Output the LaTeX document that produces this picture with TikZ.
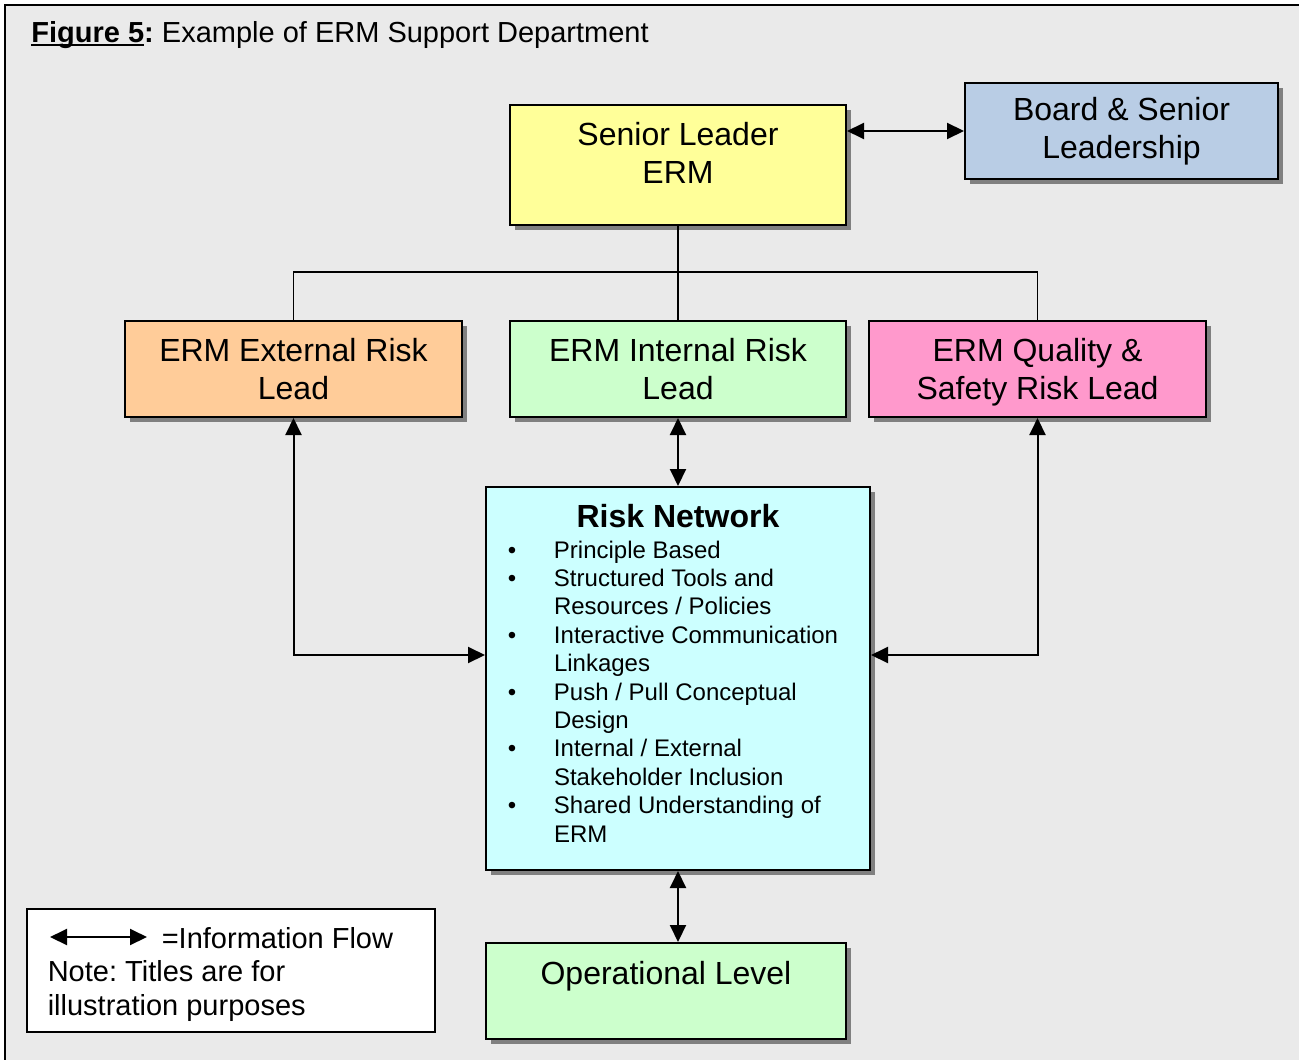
\documentclass[tikz,border=0pt]{standalone}
\usepackage{fontspec}
\setmainfont{Liberation Sans}
\usetikzlibrary{arrows.meta,shadows}
\frenchspacing
\definecolor{bg}{HTML}{EAEAEA}
\definecolor{cyel}{HTML}{FFFF99}
\definecolor{cblue}{HTML}{B9CDE5}
\definecolor{corange}{HTML}{FFCC99}
\definecolor{cgreen}{HTML}{CCFFCC}
\definecolor{cpink}{HTML}{FF99CC}
\definecolor{ccyan}{HTML}{CCFFFF}
\definecolor{shadowgray}{HTML}{808080}
\newcommand\figul[1]{\setbox0\hbox{#1}\rlap{\rule[-1.7pt]{\wd0}{1.1pt}}\box0}
\newcommand\rnbul{\hspace*{10.9pt}\makebox[23.1pt][l]{\textbullet}}
\newcommand\rncont{\hspace*{34pt}}
\tikzset{
  box/.style={draw=black, line width=1pt, inner sep=0pt, anchor=north west,
    drop shadow={shadow xshift=2.5pt, shadow yshift=-2.5pt, fill=shadowgray, opacity=1},
    font=\fontsize{16}{18.75}\selectfont, align=center},
  flow/.style={line width=1pt, {Triangle[length=8.5pt,width=8pt]}-{Triangle[length=8.5pt,width=8pt]}},
  tree/.style={line width=0.8pt},
  legendbox/.style={draw=black, line width=0.8pt, fill=white, inner sep=0pt, anchor=north west,
    font=\fontsize{14.5}{16.75}\selectfont},
}
\begin{document}
\begin{tikzpicture}[x=0.5pt, y=-0.5pt]
\useasboundingbox (0,0) rectangle (1299,1059);
\fill[white] (0,0) rectangle (1299,1059);
\draw[line width=1.2pt, fill=bg] (5,5) rectangle (1340,1100);

\node[anchor=base west, inner sep=0pt, font=\fontsize{14.5}{17}\selectfont] (title) at (31,42.5)
  {\figul{\textbf{Figure 5}}\textbf{:} Example of ERM Support Department};

\node[box, fill=cyel, minimum width=168pt, minimum height=60pt] (sl) at (509,104)
  {\parbox[c][60pt][t]{168pt}{\centering\fontsize{16}{19}\selectfont\rule{0pt}{20.25pt}Senior Leader\\ERM}};
\node[box, fill=cblue, minimum width=156.5pt, minimum height=48pt] (bd) at (964,82)
  {Board \& Senior\\Leadership};
\node[box, fill=corange, minimum width=168.5pt, minimum height=48pt] (ext) at (124,320)
  {ERM External Risk\\Lead};
\node[box, fill=cgreen, minimum width=168pt, minimum height=48pt] (int) at (509,320)
  {ERM Internal Risk\\Lead};
\node[box, fill=cpink, minimum width=168.5pt, minimum height=48pt] (qual) at (868,320)
  {ERM Quality \&\\\raisebox{0pt}[\height][0pt]{Safety Risk Lead}};
\node[box, fill=ccyan, minimum width=192pt, minimum height=191.5pt] (rn) at (485,486)
  {\parbox[c][191.5pt][t]{192pt}{\centering\bfseries\fontsize{16}{19}\selectfont\rule{0pt}{20pt}Risk Network\par
   \vspace{1.3pt}
   \raggedright\mdseries\fontsize{12}{14.2}\selectfont
   \rnbul Principle Based\\
   \rnbul Structured Tools and\\
   \rncont Resources / Policies\\
   \rnbul Interactive Communication\\
   \rncont Linkages\\
   \rnbul Push / Pull Conceptual\\
   \rncont Design\\
   \rnbul Internal / External\\
   \rncont Stakeholder Inclusion\\
   \rnbul Shared Understanding of\\
   \rncont ERM}};
\node[box, fill=cgreen, minimum width=180pt, minimum height=48pt] (op) at (485,942)
  {\parbox[c][48pt][t]{180pt}{\centering\rule{0pt}{20.75pt}Operational Level}};

\node[legendbox, minimum width=204pt, minimum height=61.5pt] (leg) at (26,908)
  {\parbox[c][61.5pt][t]{204pt}{\raggedright\rule{0pt}{19.7pt}\hspace*{67.5pt}=Information Flow\\
   \hspace*{10.5pt}Note: Titles are for\\
   \hspace*{10.5pt}illustration purposes}};
\coordinate (la1) at (50,937);
\coordinate (la2) at (147,937);
\draw[flow] (la1) -- (la2);

% connectors
\draw[flow] (sl.east |- bd.west) -- (bd.west);
\coordinate (bar) at (677,272);
\draw[tree] (sl.south) -- (int.north);
\draw[tree] (ext.north) |- (bar) -| (qual.north);
\draw[flow] (int.south) -- (rn.north);
\draw[flow] (ext.south) |- ([yshift=11.75pt]rn.west);
\draw[flow] (qual.south) |- ([yshift=11.75pt]rn.east);
\draw[flow] (rn.south) -- (rn.south |- op.north);
\end{tikzpicture}
\end{document}
